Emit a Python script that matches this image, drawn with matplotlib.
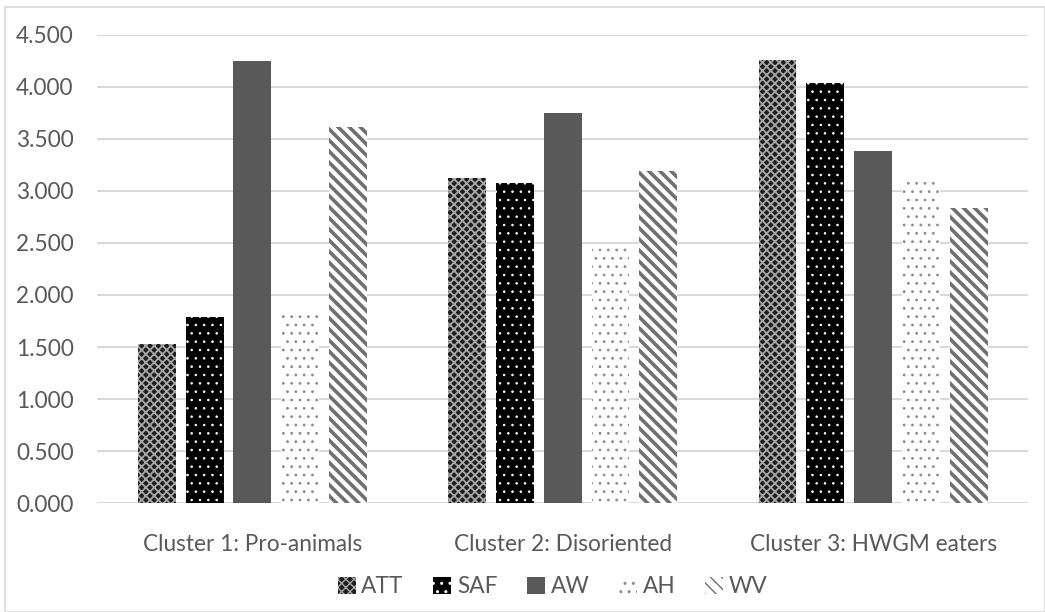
import numpy as np
import matplotlib.pyplot as plt
from matplotlib.patches import Rectangle

plt.rcParams['font.family'] = ['Lato', 'DejaVu Sans']

clusters = ['Cluster 1: Pro-animals', 'Cluster 2: Disoriented', 'Cluster 3: HWGM eaters']
series = ['ATT', 'SAF', 'AW', 'AH', 'WV']
att = [1.53, 3.12, 4.26]
saf = [1.79, 3.08, 4.04]
aw = [4.25, 3.75, 3.38]
ah = [1.86, 2.49, 3.10]
wv = [3.61, 3.19, 2.84]
yticks = [0.0, 0.5, 1.0, 1.5, 2.0, 2.5, 3.0, 3.5, 4.0, 4.5]

values = [att, saf, aw, ah, wv]
# (face, hatch colour, hatch, hatch line width)
styles = [
    ('#1e1e1e', '#a8a8a8', 'xxxx', 1.3),
    ('#000000', '#ffffff', '..', 0.6),
    ('#595959', '#595959', '', 1.0),
    ('#ffffff', '#8c8c8c', '..', 0.8),
    ('#ffffff', '#707070', '\\\\\\', 2.6),
]

fig = plt.figure(figsize=(10.45, 6.12), dpi=100)
ax = fig.add_axes([0.093, 0.178, 0.891, 0.765])

x = np.arange(len(clusters))
step = 0.154
width = 0.122
for i, (name, vals, (fc, hc, h, lw)) in enumerate(zip(series, values, styles)):
    with plt.rc_context({'hatch.linewidth': lw}):
        ax.bar(x + (i - 2) * step, vals, width, label=name, facecolor=fc,
               edgecolor=hc, hatch=h, linewidth=0, zorder=3)

ax.set_xlim(-0.5, 2.5)
ax.set_ylim(0, 4.5)
ax.set_yticks(yticks)
ax.set_yticklabels(['%.3f' % v for v in yticks])
ax.set_xticks(x)
ax.set_xticklabels(clusters)
ax.grid(axis='y', color='#d9d9d9', linewidth=1.5, zorder=0)
for s in ax.spines.values():
    s.set_visible(False)
ax.tick_params(length=0, labelsize=16.3, colors='#595959')
ax.tick_params(axis='x', pad=22)
ax.tick_params(axis='y', pad=17)

leg = ax.legend(loc='upper center', bbox_to_anchor=(0.489, -0.113), ncol=5,
                frameon=False, fontsize=16.3, handlelength=0.8, handleheight=0.8,
                handletextpad=0.25, columnspacing=1.3)
for t in leg.get_texts():
    t.set_color('#595959')

fig.patches.append(Rectangle((0.005, 0.0), 0.995, 0.988, transform=fig.transFigure,
                             fill=False, edgecolor='#d9d9d9', linewidth=1.2))

fig.savefig('out.png', dpi=100)
